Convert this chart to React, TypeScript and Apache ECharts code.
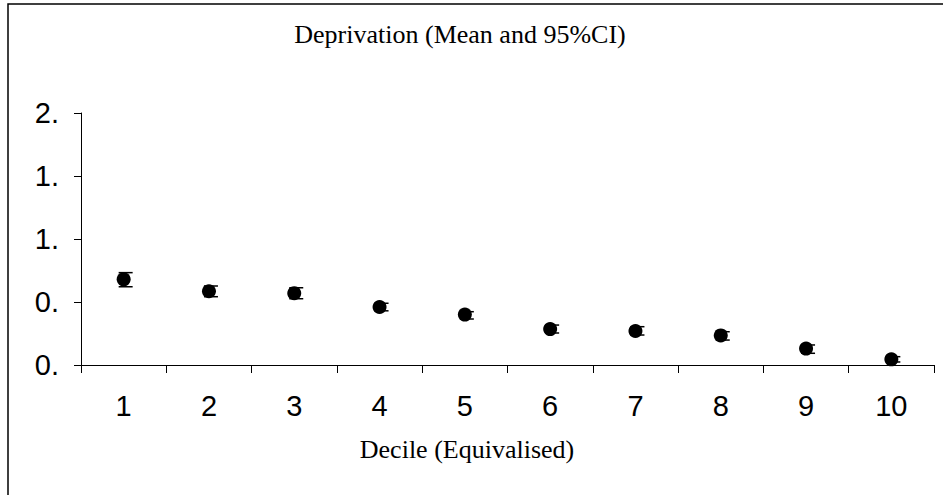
import React, { useEffect, useRef } from "react";
import * as echarts from "echarts";

const categories = ["1", "2", "3", "4", "5", "6", "7", "8", "9", "10"];
const means = [0.68, 0.585, 0.57, 0.46, 0.4, 0.285, 0.27, 0.235, 0.13, 0.045];
const ciLow = [0.621, 0.542, 0.526, 0.43, 0.365, 0.254, 0.238, 0.198, 0.093, 0.024];
const ciHigh = [0.733, 0.627, 0.613, 0.49, 0.423, 0.317, 0.304, 0.264, 0.159, 0.066];
const yTickLabels = ["0.", "0.", "1.", "1.", "2."];
const titleText = "Deprivation (Mean and 95%CI)";
const xAxisTitle = "Decile (Equivalised)";

export default function App() {
  const ref = useRef<HTMLDivElement>(null);
  useEffect(() => {
    if (!ref.current) return;
    const chart = echarts.init(ref.current, null, { renderer: "svg" });
    const errData = categories.map((_, i) => [i, ciLow[i], ciHigh[i]]);
    chart.setOption({
      animation: false,
      backgroundColor: "#ffffff",
      grid: { left: 81, right: 9, top: 113, bottom: 130, containLabel: false },
      xAxis: {
        type: "category",
        data: categories,
        boundaryGap: true,
        axisLine: { lineStyle: { color: "#000", width: 1 } },
        axisTick: { show: true, alignWithLabel: false, length: 8, lineStyle: { color: "#000" } },
        axisLabel: {
          color: "#000",
          fontFamily: "Liberation Sans, Arial, sans-serif",
          fontSize: 29,
          margin: 26,
        },
        splitLine: { show: false },
      },
      yAxis: {
        type: "value",
        min: 0,
        max: 2,
        interval: 0.5,
        axisLine: { show: true, lineStyle: { color: "#000", width: 1 } },
        axisTick: { show: true, length: 7, lineStyle: { color: "#000" } },
        axisLabel: {
          color: "#000",
          fontFamily: "Liberation Sans, Arial, sans-serif",
          fontSize: 29,
          margin: 22,
          formatter: (v: number) => yTickLabels[Math.round(v / 0.5)] ?? "",
        },
        splitLine: { show: false },
      },
      graphic: [
        {
          type: "rect",
          shape: { x: 8, y: 4, width: 1000, height: 1000 },
          style: { fill: "none", stroke: "#000", lineWidth: 1.5 },
          silent: true,
        },
        {
          type: "text",
          x: 460,
          y: 34,
          style: {
            text: titleText,
            font: "26px 'Liberation Serif', 'Times New Roman', serif",
            fill: "#000",
            textAlign: "center",
            textVerticalAlign: "middle",
          },
        },
        {
          type: "text",
          x: 467,
          y: 449,
          style: {
            text: xAxisTitle,
            font: "26px 'Liberation Serif', 'Times New Roman', serif",
            fill: "#000",
            textAlign: "center",
            textVerticalAlign: "middle",
          },
        },
      ],
      series: [
        {
          type: "custom",
          name: "95% CI",
          data: errData,
          z: 2,
          renderItem: (params: any, api: any) => {
            const x = api.value(0);
            const lo = api.coord([x, api.value(1)]);
            const hi = api.coord([x, api.value(2)]);
            const st = { stroke: "#000", lineWidth: 1.5 };
            return {
              type: "group",
              children: [
                { type: "line", shape: { x1: lo[0], y1: lo[1], x2: hi[0], y2: hi[1] }, style: st },
                { type: "line", shape: { x1: lo[0] - 5, y1: lo[1], x2: lo[0] + 9, y2: lo[1] }, style: st },
                { type: "line", shape: { x1: hi[0] - 5, y1: hi[1], x2: hi[0] + 9, y2: hi[1] }, style: st },
              ],
            };
          },
        },
        {
          type: "scatter",
          name: "Mean",
          data: means,
          symbol: "circle",
          symbolSize: 14,
          itemStyle: { color: "#000", opacity: 1 },
          z: 3,
        },
      ],
    });
    return () => chart.dispose();
  }, []);
  return (
    <div
      ref={ref}
      style={{ position: "fixed", left: 0, top: 0, width: 943, height: 495, background: "#fff" }}
    />
  );
}
